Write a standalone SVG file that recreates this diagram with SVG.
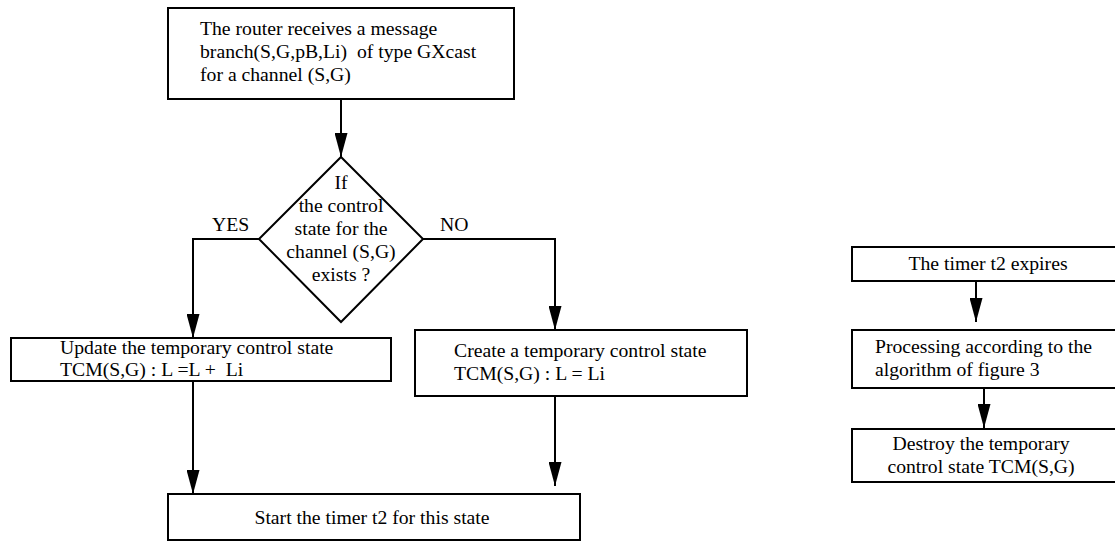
<svg xmlns="http://www.w3.org/2000/svg" width="1115" height="542" viewBox="0 0 1115 542">
<style>
  .box { fill: #ffffff; stroke: #000000; stroke-width: 2; }
  .t { font-family: "Liberation Serif", "Times New Roman", serif; font-size: 19.7px; fill: #000000; }
  .c { text-anchor: middle; }
  .ln { fill: none; stroke: #000000; stroke-width: 2; }
</style>
<defs>
  <marker id="arr" markerUnits="userSpaceOnUse" markerWidth="24" markerHeight="13" refX="24" refY="6.5" orient="auto">
    <path d="M0,0 L24,6.5 L0,13 z" fill="#000000"/>
  </marker>
</defs>
<rect width="1115" height="542" fill="#ffffff"/>

<g id="connectors">
  <line class="ln" x1="341" y1="99" x2="341" y2="157" marker-end="url(#arr)"/>
  <polyline class="ln" points="259,239 193,239 193,338" marker-end="url(#arr)"/>
  <polyline class="ln" points="423,239 555,239 555,330" marker-end="url(#arr)"/>
  <line class="ln" x1="193" y1="381" x2="193" y2="494" marker-end="url(#arr)"/>
  <line class="ln" x1="555" y1="396" x2="555" y2="486" marker-end="url(#arr)"/>
  <line class="ln" x1="976" y1="281" x2="976" y2="322" marker-end="url(#arr)"/>
  <line class="ln" x1="984" y1="388" x2="984" y2="428" marker-end="url(#arr)"/>
  <text class="t" x="212" y="231">YES</text>
  <text class="t" x="440" y="231">NO</text>
</g>

<g id="receive">
  <rect class="box" x="168" y="8" width="346" height="91"/>
  <text class="t" x="200" y="35">The router receives a message</text>
  <text class="t" x="200" y="58" xml:space="preserve">branch(S,G,pB,Li)  of type GXcast</text>
  <text class="t" x="200" y="81">for a channel (S,G)</text>
</g>

<g id="decision">
  <polygon class="box" points="341,157 423,239 341,322 259,239"/>
  <text class="t c" x="341" y="189">If</text>
  <text class="t c" x="341" y="212">the control</text>
  <text class="t c" x="341" y="235">state for the</text>
  <text class="t c" x="341" y="258">channel (S,G)</text>
  <text class="t c" x="341" y="281">exists ?</text>
</g>

<g id="update">
  <rect class="box" x="11" y="338" width="380" height="43"/>
  <text class="t" x="60" y="354">Update the temporary control state</text>
  <text class="t" x="60" y="376" xml:space="preserve">TCM(S,G) : L =L +  Li</text>
</g>

<g id="create">
  <rect class="box" x="415" y="330" width="332" height="66"/>
  <text class="t" x="454" y="357">Create a temporary control state</text>
  <text class="t" x="454" y="380">TCM(S,G) : L = Li</text>
</g>

<g id="start">
  <rect class="box" x="168" y="494" width="412" height="46"/>
  <text class="t c" x="372" y="524">Start the timer t2 for this state</text>
</g>

<g id="expires">
  <rect class="box" x="852" y="247" width="280" height="34"/>
  <text class="t c" x="988" y="270">The timer t2 expires</text>
</g>

<g id="processing">
  <rect class="box" x="852" y="330" width="280" height="58"/>
  <text class="t" x="875" y="353">Processing according to the</text>
  <text class="t" x="875" y="376">algorithm of figure 3</text>
</g>

<g id="destroy">
  <rect class="box" x="852" y="429" width="280" height="53"/>
  <text class="t c" x="981" y="450">Destroy the temporary</text>
  <text class="t c" x="981" y="473">control state TCM(S,G)</text>
</g>
</svg>
